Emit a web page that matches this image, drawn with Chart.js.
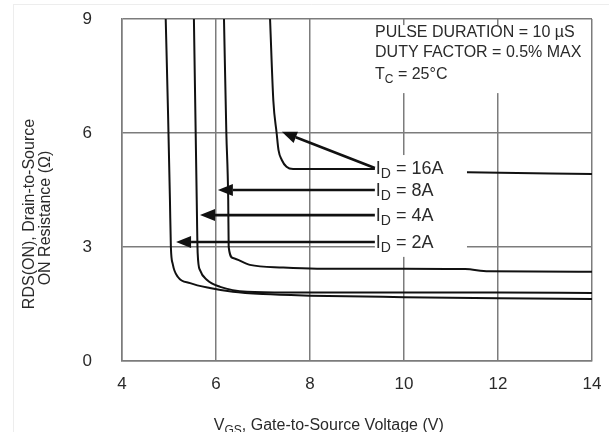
<!DOCTYPE html>
<html>
<head>
<meta charset="utf-8">
<script src="https://cdn.jsdelivr.net/npm/chart.js@4.4.1/dist/chart.umd.min.js"></script>
<style>
  html, body { margin: 0; padding: 0; background: #fff; }
  canvas { display: block; }
</style>
</head>
<body>
<canvas id="rdsChart" width="609" height="432"></canvas>
<script>
// ── RDS(on) vs VGS, one curve per drain current: [VGS (V), RDS (Ω)] ──
const curve2A  = [[4.93, 9], [4.98, 6.5], [5.02, 4.24], [5.04, 3.0], [5.08, 2.55], [5.19, 2.21],
                  [5.45, 2.05], [5.87, 1.92], [6.36, 1.82], [7.0, 1.76], [8.0, 1.72], [10.0, 1.68],
                  [12.0, 1.65], [14.0, 1.63]];
const curve4A  = [[5.53, 9], [5.59, 4.24], [5.61, 2.84], [5.66, 2.39], [5.81, 2.13], [6.09, 1.95],
                  [6.66, 1.82], [7.5, 1.8], [10.0, 1.8], [12.0, 1.8], [14.0, 1.79]];
const curve8A  = [[6.17, 9], [6.22, 6.0], [6.26, 4.24], [6.27, 3.0], [6.36, 2.71], [6.72, 2.53],
                  [7.43, 2.46], [8.15, 2.43], [10.0, 2.43], [11.3, 2.42], [11.8, 2.36], [14.0, 2.35]];
const curve16A = [[7.15, 9], [7.22, 6.85], [7.29, 6.0], [7.33, 5.55], [7.40, 5.29], [7.50, 5.11],
                  [7.64, 5.05], [9.38, 5.05], [11.34, 4.97], [14.0, 4.92]];

const currentLabels = ["2A", "4A", "8A", "16A"];
const xTicks = [4, 6, 8, 10, 12, 14];
const yTicks = [0, 3, 6, 9];

// leader arrows from each ID label to its curve: [VGS, RDS]
const arrowTails = [[9.38, 3.13], [9.38, 3.84], [9.38, 4.5], [9.38, 5.08]];
const arrowTips  = [[5.15, 3.13], [5.66, 3.84], [6.04, 4.5], [7.40, 6.03]];

// test conditions printed in the top right corner
const conditionLines = [
  [["PULSE DURATION = 10 µS", false]],
  [["DUTY FACTOR = 0.5% MAX", false]],
  [["T", false], ["C", true], [" = 25°C", false]]
];

// white panels behind the text blocks (axis units: x0, x1, y0, y1)
const textPanels = [[9.32, 13.96, 7.05, 8.84], [9.38, 11.34, 2.74, 5.42]];

const FONT = "'Liberation Sans', Arial, sans-serif";
const TXT  = "#2a2a2a";

function toPoints(arr) {
  return arr.map(function (p) { return { x: p[0], y: p[1] }; });
}

// draw a run of text pieces, some of them as subscripts
function drawRich(ctx, parts, x, y, size, align) {
  const subSize = Math.round(size * 0.75);
  let total = 0;
  parts.forEach(function (p) {
    ctx.font = (p[1] ? subSize : size) + "px " + FONT;
    total += ctx.measureText(p[0]).width;
  });
  let cx = align === "center" ? x - total / 2 : x;
  ctx.textAlign = "left";
  ctx.textBaseline = "alphabetic";
  parts.forEach(function (p) {
    ctx.font = (p[1] ? subSize : size) + "px " + FONT;
    ctx.fillText(p[0], cx, p[1] ? y + 4 : y);
    cx += ctx.measureText(p[0]).width;
  });
}

const overlay = {
  id: "overlay",
  beforeDraw: function (chart) {
    const ctx = chart.ctx;
    ctx.save();
    ctx.fillStyle = "#fff";
    ctx.fillRect(0, 0, chart.width, chart.height);
    // faint frame
    ctx.strokeStyle = "#ededed";
    ctx.lineWidth = 1;
    ctx.beginPath();
    ctx.moveTo(13.5, 4);
    ctx.lineTo(13.5, chart.height);
    ctx.moveTo(13.5, 4.5);
    ctx.lineTo(chart.width, 4.5);
    ctx.stroke();
    ctx.restore();
  },
  afterDatasetsDraw: function (chart) {
    const ctx = chart.ctx;
    const xs = chart.scales.x, ys = chart.scales.y;
    ctx.save();

    // panels mask the grid and curves behind the text
    ctx.fillStyle = "#fff";
    textPanels.forEach(function (b) {
      const x0 = xs.getPixelForValue(b[0]), x1 = xs.getPixelForValue(b[1]);
      const y0 = ys.getPixelForValue(b[3]), y1 = ys.getPixelForValue(b[2]);
      ctx.fillRect(x0, y0, x1 - x0, y1 - y0);
    });

    // arrows
    ctx.strokeStyle = "#111";
    ctx.fillStyle = "#111";
    arrowTails.forEach(function (t, i) {
      const tx = xs.getPixelForValue(t[0]), ty = ys.getPixelForValue(t[1]);
      const hx = xs.getPixelForValue(arrowTips[i][0]), hy = ys.getPixelForValue(arrowTips[i][1]);
      const ang = Math.atan2(hy - ty, hx - tx);
      const len = 15, half = 6;
      const bx = hx - len * Math.cos(ang), by = hy - len * Math.sin(ang);
      ctx.lineWidth = 2.6;
      ctx.beginPath();
      ctx.moveTo(tx, ty);
      ctx.lineTo(bx, by);
      ctx.stroke();
      ctx.beginPath();
      ctx.moveTo(hx, hy);
      ctx.lineTo(bx + half * Math.sin(ang), by - half * Math.cos(ang));
      ctx.lineTo(bx - half * Math.sin(ang), by + half * Math.cos(ang));
      ctx.closePath();
      ctx.fill();

      // ID label at the arrow tail
      ctx.fillStyle = TXT;
      drawRich(ctx, [["I", false], ["D", true], [" = " + currentLabels[i], false]], tx + 1, ty + 6, 18, "left");
      ctx.fillStyle = "#111";
    });

    // test conditions
    ctx.fillStyle = TXT;
    const cx = xs.getPixelForValue(textPanels[0][0]) + 3;
    conditionLines.forEach(function (line, i) {
      drawRich(ctx, line, cx, chart.chartArea.top + 18 + i * 20 + (i === 2 ? 2 : 0), 16, "left");
    });

    // axis titles
    const area = chart.chartArea;
    drawRich(ctx, [["V", false], ["GS", true], [", Gate-to-Source Voltage (V)", false]],
             area.left + 0.44 * (area.right - area.left), chart.height - 2, 16, "center");
    ctx.translate(0, (area.top + area.bottom) / 2 + 24);
    ctx.rotate(-Math.PI / 2);
    ctx.font = "16px " + FONT;
    ctx.textAlign = "center";
    ctx.textBaseline = "middle";
    ctx.fillText("RDS(ON), Drain-to-Source", 0, 30);
    ctx.fillText("ON Resistance (Ω)", -4, 46);
    ctx.restore();
  }
};

const curves = [curve2A, curve4A, curve8A, curve16A];

new Chart(document.getElementById("rdsChart"), {
  type: "scatter",
  data: {
    datasets: curves.map(function (c, i) {
      return {
        label: "ID = " + currentLabels[i],
        data: toPoints(c),
        showLine: true,
        borderColor: "#111",
        borderWidth: 2,
        pointRadius: 0,
        cubicInterpolationMode: "monotone",
        fill: false
      };
    })
  },
  options: {
    responsive: false,
    animation: false,
    events: [],
    layout: { padding: { top: 19, right: 17, left: 0, bottom: 0 } },
    plugins: {
      legend: { display: false },
      tooltip: { enabled: false }
    },
    scales: {
      x: {
        type: "linear",
        min: 4,
        max: 14,
        afterBuildTicks: function (s) { s.ticks = xTicks.map(function (v) { return { value: v }; }); },
        afterFit: function (s) { s.height = 71; s.paddingLeft = 0; s.paddingRight = 0; },
        grid: { color: "#7c7c7c", lineWidth: 1.5, drawTicks: false },
        border: { color: "#7c7c7c", width: 1.5 },
        ticks: { color: TXT, padding: 13, font: { family: FONT, size: 17 } }
      },
      y: {
        type: "linear",
        min: 0,
        max: 9,
        afterBuildTicks: function (s) { s.ticks = yTicks.map(function (v) { return { value: v }; }); },
        afterFit: function (s) { s.width = 122; s.paddingTop = 0; s.paddingBottom = 0; },
        grid: { color: "#7c7c7c", lineWidth: 1.5, drawTicks: false },
        border: { color: "#7c7c7c", width: 1.5 },
        ticks: { color: TXT, padding: 30, font: { family: FONT, size: 17 } }
      }
    }
  },
  plugins: [overlay]
});
</script>
</body>
</html>
